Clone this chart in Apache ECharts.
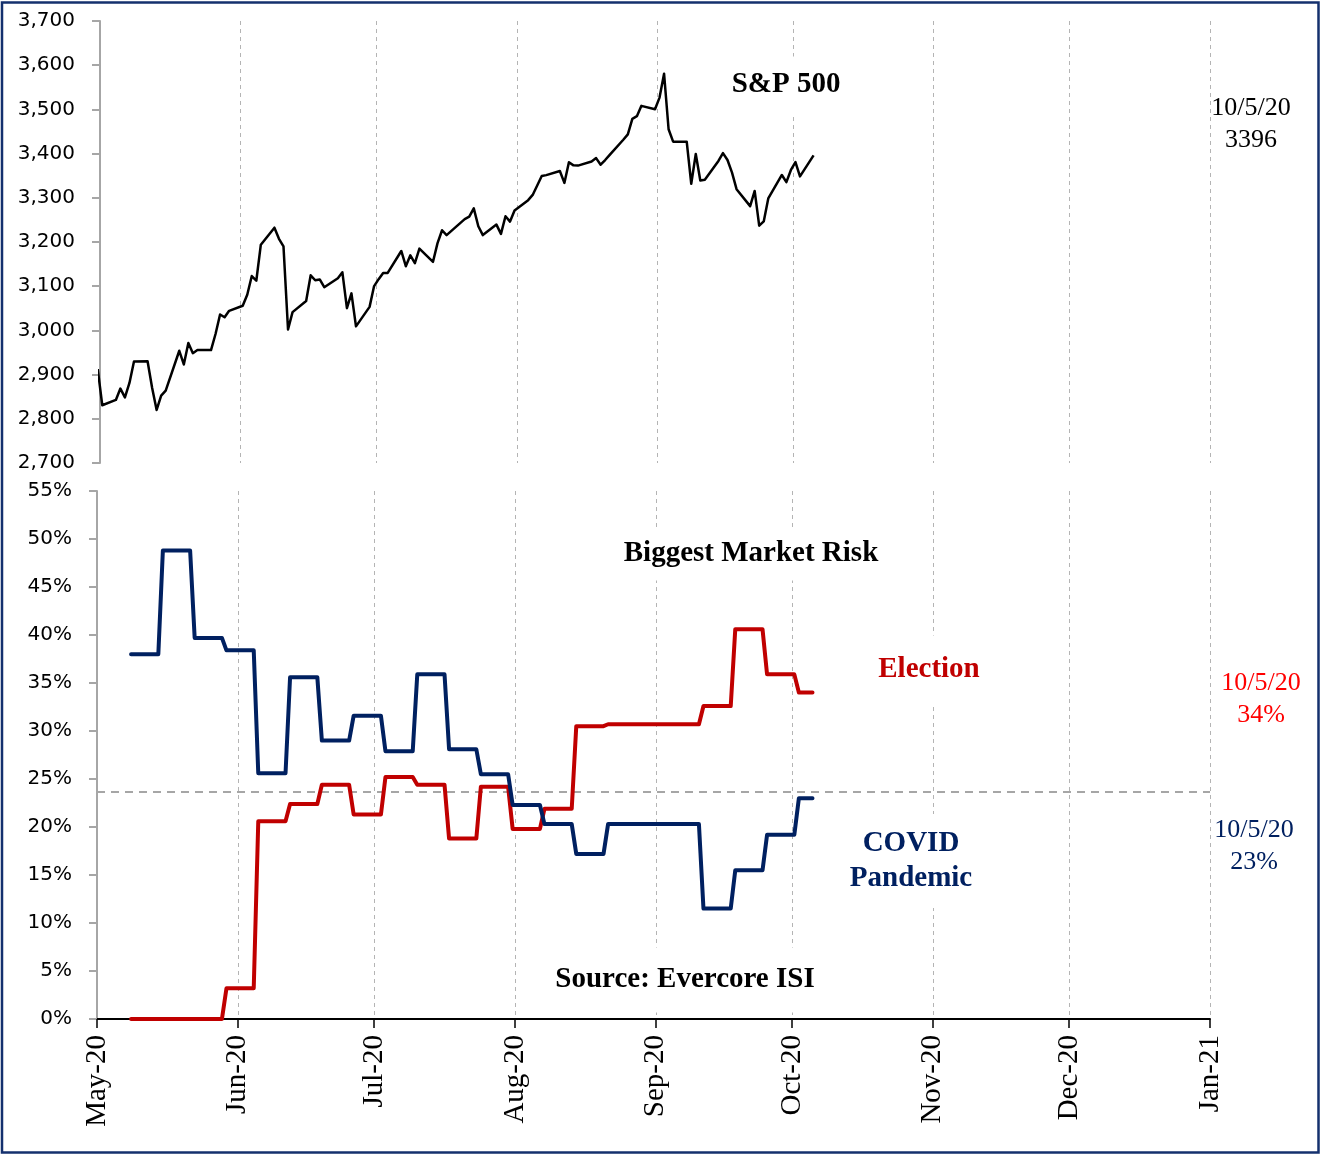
<!DOCTYPE html>
<html>
<head>
<meta charset="utf-8">
<script src="https://cdn.jsdelivr.net/npm/echarts@6/dist/echarts.min.js"></script>
<style>
  html, body { margin: 0; padding: 0; background: #fff; }
  #chart { width: 1321px; height: 1155px; }
</style>
</head>
<body>
<div id="chart"></div>
<script>
// S&P 500 daily closes (holidays carry the prior close, as in the source sheet)
const spxDates = [
  "2020-04-30", "2020-05-01", "2020-05-04", "2020-05-05", "2020-05-06", "2020-05-07", "2020-05-08",
  "2020-05-11", "2020-05-12", "2020-05-13", "2020-05-14", "2020-05-15", "2020-05-18", "2020-05-19",
  "2020-05-20", "2020-05-21", "2020-05-22", "2020-05-25", "2020-05-26", "2020-05-27", "2020-05-28",
  "2020-05-29", "2020-06-01", "2020-06-02", "2020-06-03", "2020-06-04", "2020-06-05", "2020-06-08",
  "2020-06-09", "2020-06-10", "2020-06-11", "2020-06-12", "2020-06-15", "2020-06-16", "2020-06-17",
  "2020-06-18", "2020-06-19", "2020-06-22", "2020-06-23", "2020-06-24", "2020-06-25", "2020-06-26",
  "2020-06-29", "2020-06-30", "2020-07-01", "2020-07-02", "2020-07-03", "2020-07-06", "2020-07-07",
  "2020-07-08", "2020-07-09", "2020-07-10", "2020-07-13", "2020-07-14", "2020-07-15", "2020-07-16",
  "2020-07-17", "2020-07-20", "2020-07-21", "2020-07-22", "2020-07-23", "2020-07-24", "2020-07-27",
  "2020-07-28", "2020-07-29", "2020-07-30", "2020-07-31", "2020-08-03", "2020-08-04", "2020-08-05",
  "2020-08-06", "2020-08-07", "2020-08-10", "2020-08-11", "2020-08-12", "2020-08-13", "2020-08-14",
  "2020-08-17", "2020-08-18", "2020-08-19", "2020-08-20", "2020-08-21", "2020-08-24", "2020-08-25",
  "2020-08-26", "2020-08-27", "2020-08-28", "2020-08-31", "2020-09-01", "2020-09-02", "2020-09-03",
  "2020-09-04", "2020-09-07", "2020-09-08", "2020-09-09", "2020-09-10", "2020-09-11", "2020-09-14",
  "2020-09-15", "2020-09-16", "2020-09-17", "2020-09-18", "2020-09-21", "2020-09-22", "2020-09-23",
  "2020-09-24", "2020-09-25", "2020-09-28", "2020-09-29", "2020-09-30", "2020-10-01", "2020-10-02",
  "2020-10-05"
];
const spxValues = [
  2912.4, 2830.7, 2842.7, 2868.4, 2848.4, 2881.2, 2929.8,
  2930.3, 2870.1, 2820.0, 2852.5, 2863.7, 2953.9, 2922.9,
  2971.6, 2948.5, 2955.5, 2955.5, 2991.8, 3036.1, 3029.7,
  3044.3, 3055.7, 3080.8, 3122.9, 3112.4, 3193.9, 3232.4,
  3207.2, 3190.1, 3002.1, 3041.3, 3066.6, 3124.7, 3113.5,
  3115.3, 3097.7, 3117.9, 3131.3, 3050.3, 3083.8, 3009.1,
  3053.2, 3100.3, 3115.9, 3130.0, 3130.0, 3179.7, 3145.3,
  3169.9, 3152.1, 3185.0, 3155.2, 3197.5, 3226.6, 3215.6,
  3224.7, 3251.8, 3257.3, 3276.0, 3235.7, 3215.6, 3239.4,
  3218.4, 3258.4, 3246.2, 3271.1, 3294.6, 3306.5, 3327.8,
  3349.2, 3351.3, 3360.5, 3333.7, 3380.4, 3373.4, 3372.9,
  3382.0, 3389.8, 3374.9, 3385.5, 3397.2, 3431.3, 3443.6,
  3478.7, 3484.6, 3508.0, 3500.3, 3526.7, 3580.8, 3455.1,
  3427.0, 3427.0, 3331.8, 3399.0, 3339.2, 3341.0, 3383.5,
  3401.2, 3385.5, 3357.0, 3319.5, 3281.1, 3315.6, 3236.9,
  3246.6, 3298.5, 3351.6, 3335.5, 3363.0, 3380.8, 3348.4,
  3396
];

// Evercore ISI weekly survey: biggest market risk (% of respondents)
const surveyDates = [
  "2020-05-08", "2020-05-15", "2020-05-22", "2020-05-29", "2020-06-05", "2020-06-12",
  "2020-06-19", "2020-06-26", "2020-07-03", "2020-07-10", "2020-07-17", "2020-07-24",
  "2020-07-31", "2020-08-07", "2020-08-14", "2020-08-21", "2020-08-28", "2020-09-04",
  "2020-09-11", "2020-09-18", "2020-09-25", "2020-10-02"
];
const electionPct = [
  0, 0, 0, 3.2, 20.6, 22.4, 24.4, 21.3, 25.2, 24.4, 18.8, 24.2,
  19.8, 21.9, 30.5, 30.7, 30.7, 30.7, 32.6, 40.6, 35.9, 34.0
];
const covidPct = [
  38.0, 48.8, 39.7, 38.4, 25.6, 35.6, 29.0, 31.6, 27.9, 35.9, 28.1, 25.5,
  22.3, 20.3, 17.2, 20.3, 20.3, 20.3, 11.5, 15.5, 19.2, 23.0
];
const lastDate = "2020-10-05";
const refLevel = 23.7;

const monthTicks = [
  "2020-05-01", "2020-06-01", "2020-07-01", "2020-08-01", "2020-09-01",
  "2020-10-01", "2020-11-01", "2020-12-01", "2021-01-01"
];
const monthLabels = ["May-20", "Jun-20", "Jul-20", "Aug-20", "Sep-20", "Oct-20", "Nov-20", "Dec-20", "Jan-21"];

const DAY = 864e5;
function ts(s) {
  const [y, m, d] = s.split("-").map(Number);
  return Date.UTC(y, m - 1, d);
}
// Excel date axis puts each day's point in the middle of its slot
const mid = (s) => ts(s) + DAY / 2;

const tickValues = monthTicks.map(ts);
const xMin = tickValues[0];
const xMax = tickValues[tickValues.length - 1];

const spxData = spxDates.map((d, i) => [mid(d), spxValues[i]]);

// weekly readings held until the day before the next reading
function stepData(values) {
  const out = [];
  values.forEach((v, i) => {
    out.push([mid(surveyDates[i]), v]);
    const end = i < values.length - 1 ? mid(surveyDates[i + 1]) - DAY : mid(lastDate);
    out.push([end, v]);
  });
  return out;
}

const serif = "Liberation Serif";
const sans = "DejaVu Sans";
const gridDash = { color: "#b4b4b4", type: [4, 4], width: 1 };

function note(text, x, y, opts) {
  return {
    type: "text",
    x, y, z: 100,
    style: Object.assign({
      text,
      align: "center",
      verticalAlign: "middle",
      fontFamily: serif,
      fontSize: 29,
      fontWeight: "bold",
      fill: "#000"
    }, opts)
  };
}

const chart = echarts.init(document.getElementById("chart"), null, { renderer: "canvas" });
chart.setOption({
  animation: false,
  backgroundColor: "#fff",
  grid: [
    { left: 100, top: 21, right: 111, height: 442 },
    { left: 97, top: 491, right: 111, height: 528 }
  ],
  xAxis: [
    {
      type: "value", gridIndex: 0, min: xMin, max: xMax,
      axisLine: { show: false },
      axisTick: { show: false, customValues: tickValues },
      axisLabel: { show: false, customValues: tickValues },
      splitLine: { show: true, lineStyle: gridDash }
    },
    {
      type: "value", gridIndex: 1, min: xMin, max: xMax,
      axisLine: { show: true, onZero: false, lineStyle: { color: "#000", width: 2 } },
      axisTick: { show: true, length: 9, customValues: tickValues, lineStyle: { color: "#000", width: 1.5 } },
      axisLabel: {
        customValues: tickValues,
        rotate: 90,
        margin: 16,
        fontFamily: serif,
        fontSize: 29,
        color: "#000",
        formatter: (v) => monthLabels[tickValues.indexOf(v)] || ""
      },
      splitLine: { show: true, lineStyle: gridDash }
    }
  ],
  yAxis: [
    {
      type: "value", gridIndex: 0, min: 2700, max: 3700, interval: 100,
      axisLine: { show: true, lineStyle: { color: "#a6a6a6", width: 2 } },
      axisTick: { show: true, length: 8, lineStyle: { color: "#a6a6a6", width: 2 } },
      axisLabel: {
        margin: 25, fontFamily: sans, fontSize: 20, color: "#000",
        formatter: (v) => v.toLocaleString("en-US")
      },
      splitLine: { show: false }
    },
    {
      type: "value", gridIndex: 1, min: 0, max: 55, interval: 5,
      axisLine: { show: true, lineStyle: { color: "#a6a6a6", width: 2 } },
      axisTick: { show: true, length: 8, lineStyle: { color: "#a6a6a6", width: 2 } },
      axisLabel: {
        margin: 25, fontFamily: sans, fontSize: 20, color: "#000",
        formatter: (v) => v + "%"
      },
      splitLine: { show: false }
    }
  ],
  series: [
    {
      name: "S&P 500", type: "line", xAxisIndex: 0, yAxisIndex: 0,
      data: spxData, showSymbol: false, clip: true,
      lineStyle: { color: "#000", width: 2.5, join: "round" }
    },
    {
      name: "Election", type: "line", xAxisIndex: 1, yAxisIndex: 1,
      data: stepData(electionPct), showSymbol: false, z: 4,
      lineStyle: { color: "#c00000", width: 4, cap: "round", join: "round" }
    },
    {
      name: "COVID Pandemic", type: "line", xAxisIndex: 1, yAxisIndex: 1,
      data: stepData(covidPct), showSymbol: false, z: 5,
      lineStyle: { color: "#002060", width: 4, cap: "round", join: "round" },
      markLine: {
        silent: true, symbol: "none", z: 1,
        label: { show: false },
        lineStyle: { color: "#a6a6a6", type: [8, 6], width: 2 },
        data: [{ yAxis: refLevel }]
      }
    }
  ],
  graphic: [
    {
      type: "rect", z: 200,
      shape: { x: 2, y: 2.5, width: 1316.5, height: 1150 },
      style: { fill: null, stroke: "#14306e", lineWidth: 2.5 }
    },
    note("S&P 500", 786, 85, { backgroundColor: "#fff", padding: [14, 6] }),
    note("10/5/20\n3396", 1251, 124, { fontSize: 26, fontWeight: "normal", lineHeight: 32 }),
    note("Biggest Market Risk", 751, 554, { backgroundColor: "#fff", padding: [12, 6] }),
    note("Election", 929, 670, { fill: "#c00000", backgroundColor: "#fff", padding: [20, 6] }),
    note("COVID\nPandemic", 911, 861, { fill: "#002060", lineHeight: 35, backgroundColor: "#fff", padding: [12, 6] }),
    note("10/5/20\n34%", 1261, 699, { fontSize: 26, fontWeight: "normal", lineHeight: 32, fill: "#ff0000" }),
    note("10/5/20\n23%", 1254, 846, { fontSize: 26, fontWeight: "normal", lineHeight: 32, fill: "#002060" }),
    note("Source: Evercore ISI", 685, 980, { backgroundColor: "#fff", padding: [18, 6] })
  ]
});
</script>
</body>
</html>
